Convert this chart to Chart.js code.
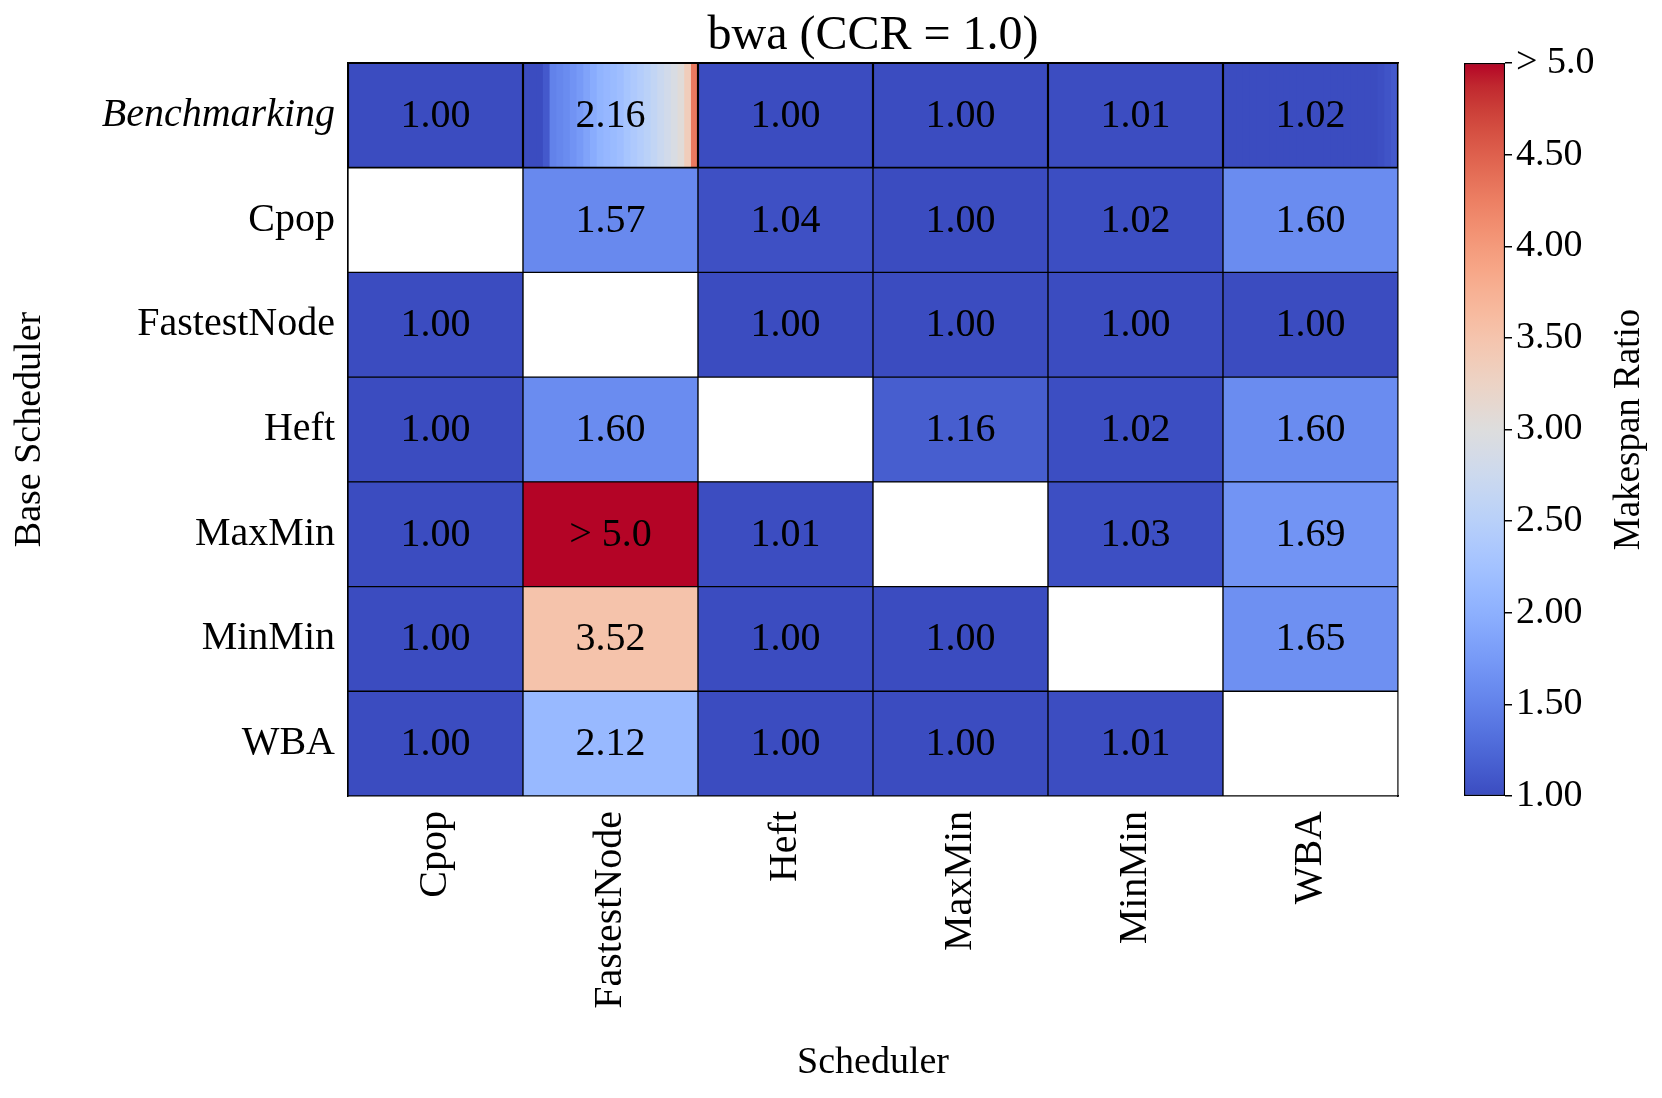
<!DOCTYPE html>
<html>
<head>
<meta charset="utf-8">
<script src="https://cdn.jsdelivr.net/npm/chart.js@4.4.1/dist/chart.umd.min.js"></script>
<style>
  body { margin: 0; background: #fff; }
  #wrap { position: relative; width: 1662px; height: 1098px; }
  #wrap canvas { position: absolute; left: 0; top: 0; }
</style>
</head>
<body>
<div id="wrap">
  <canvas id="heat" width="1662" height="1098"></canvas>
  <canvas id="cbar" width="1662" height="1098"></canvas>
</div>
<script>
var rows = ["Benchmarking", "Cpop", "FastestNode", "Heft", "MaxMin", "MinMin", "WBA"];
var cols = ["Cpop", "FastestNode", "Heft", "MaxMin", "MinMin", "WBA"];

// makespan ratio per base scheduler (row) vs scheduler (column)
// null = same scheduler (empty cell), 5.0 = clipped, shown as "> 5.0"
var benchMeans  = [1.00, 2.16, 1.00, 1.00, 1.01, 1.02];
var cpopRow     = [null, 1.57, 1.04, 1.00, 1.02, 1.60];
var fastestRow  = [1.00, null, 1.00, 1.00, 1.00, 1.00];
var heftRow     = [1.00, 1.60, null, 1.16, 1.02, 1.60];
var maxminRow   = [1.00, 5.00, 1.01, null, 1.03, 1.69];
var minminRow   = [1.00, 3.52, 1.00, 1.00, null, 1.65];
var wbaRow      = [1.00, 2.12, 1.00, 1.00, 1.01, null];

// sorted ratios inside each benchmarking cell, drawn as vertical stripes
var benchCpop    = [1.00];
var benchFastest = [1.00, 1.00, 1.00, 1.12, 1.50, 1.55, 1.60, 1.68, 1.75, 1.85, 1.95, 2.05, 2.10,
                    2.15, 2.20, 2.30, 2.38, 2.45, 2.52, 2.62, 2.72, 2.82, 2.92, 3.05, 3.35, 4.30];
var benchHeft    = [1.00];
var benchMaxmin  = [1.00];
var benchMinmin  = [1.01];
var benchWba     = [1.00, 1.00, 1.00, 1.00, 1.00, 1.00, 1.00, 1.00, 1.00, 1.00, 1.00, 1.00, 1.00,
                    1.00, 1.00, 1.00, 1.00, 1.00, 1.00, 1.00, 1.00, 1.00, 1.00, 1.03, 1.07, 1.12];

var cbarMin = 1.0, cbarMax = 5.0, cbarStep = 0.5;

var tableRows = [benchMeans, cpopRow, fastestRow, heftRow, maxminRow, minminRow, wbaRow];
var benchStripes = [benchCpop, benchFastest, benchHeft, benchMaxmin, benchMinmin, benchWba];

// matplotlib coolwarm
var coolwarm = [[59,76,192],[68,90,204],[77,104,215],[87,117,225],[98,130,234],[108,142,241],
  [119,154,247],[130,165,251],[141,176,254],[152,185,255],[163,194,255],[174,201,253],[184,208,249],
  [194,213,244],[204,217,238],[213,219,230],[221,221,221],[229,216,209],[236,211,197],[241,204,185],
  [245,196,173],[247,187,160],[247,177,148],[247,166,135],[244,154,123],[241,141,111],[236,127,99],
  [229,112,88],[222,96,77],[213,80,66],[203,62,56],[192,40,47],[180,4,38]];

function cmap(v) {
  var n = coolwarm.length - 1;
  var t = Math.min(Math.max((v - cbarMin) / (cbarMax - cbarMin), 0), 1) * n;
  var i = Math.min(Math.floor(t), n - 1), f = t - i;
  var a = coolwarm[i], b = coolwarm[i + 1];
  return 'rgb(' + Math.round(a[0] + (b[0] - a[0]) * f) + ',' + Math.round(a[1] + (b[1] - a[1]) * f) + ',' + Math.round(a[2] + (b[2] - a[2]) * f) + ')';
}

function fmt(v) {
  return v >= cbarMax ? '> 5.0' : v.toFixed(2);
}

Chart.defaults.font.family = '"Liberation Serif", "DejaVu Serif", serif';
Chart.defaults.color = '#000';

// build bar pieces from the tables
var cellData = [], stripeData = [], outlineData = [];
tableRows.forEach(function (vals, ri) {
  if (ri === 0) return;
  vals.forEach(function (v, ci) {
    cellData.push({ x: [ci, ci + 1], y: rows[ri], v: v });
  });
});
benchStripes.forEach(function (s, ci) {
  s.forEach(function (v, k) {
    // each stripe runs to the cell end, the next one covers the rest (no seams)
    stripeData.push({ x: [ci + k / s.length, ci + 1], y: rows[0], v: v });
  });
  outlineData.push({ x: [ci, ci + 1], y: rows[0], v: null });
});

function fillColor(c) {
  var v = c.raw && c.raw.v;
  return v == null ? '#ffffff' : cmap(v);
}

var annotate = {
  id: 'annotate',
  afterDatasetsDraw: function (chart) {
    var ctx = chart.ctx, xs = chart.scales.x, ys = chart.scales.y;
    ctx.save();
    ctx.font = '40px "Liberation Serif", serif';
    ctx.fillStyle = '#000';
    ctx.textAlign = 'center';
    ctx.textBaseline = 'middle';
    tableRows.forEach(function (vals, ri) {
      vals.forEach(function (v, ci) {
        if (v == null) return;
        ctx.fillText(fmt(v), xs.getPixelForValue(ci + 0.5), ys.getPixelForValue(ri) + 1);
      });
    });
    ctx.restore();
  }
};

new Chart(document.getElementById('heat'), {
  type: 'bar',
  data: {
    labels: rows,
    datasets: [
      { data: outlineData, backgroundColor: 'rgba(0,0,0,0)', borderColor: '#000', borderWidth: 0.75, order: 0 },
      { data: stripeData, backgroundColor: fillColor, borderWidth: 0, order: 1 },
      { data: cellData, backgroundColor: fillColor, borderColor: '#000', borderWidth: 1, order: 2 }
    ]
  },
  options: {
    indexAxis: 'y',
    responsive: false,
    animation: false,
    layout: { padding: { left: 0, right: 264, top: 0, bottom: 0 } },
    datasets: { bar: { grouped: false, barPercentage: 1, categoryPercentage: 1, borderSkipped: false } },
    plugins: { legend: { display: false }, tooltip: { enabled: false } },
    scales: {
      x: {
        type: 'linear', min: 0, max: cols.length,
        afterBuildTicks: function (s) { s.ticks = cols.map(function (c, i) { return { value: i + 0.5 }; }); },
        afterFit: function (s) { s.height = 302; },
        ticks: {
          autoSkip: false, minRotation: 90, maxRotation: 90, padding: 15,
          font: { size: 40 },
          callback: function (value, index) { return cols[index]; }
        },
        grid: { display: false, drawTicks: false },
        border: { display: true, color: '#000', width: 1.5 },
        title: { display: true, text: 'Scheduler', font: { size: 38 }, padding: { top: 0, bottom: 12 } }
      },
      x2: {
        type: 'linear', position: 'top', min: 0, max: cols.length,
        afterFit: function (s) { s.height = 63; },
        ticks: { display: false },
        grid: { display: false, drawTicks: false },
        border: { display: true, color: '#000', width: 1.5 },
        title: { display: true, text: 'bwa (CCR = 1.0)', font: { size: 48 }, padding: { top: 8, bottom: 0 } }
      },
      y: {
        type: 'category',
        afterFit: function (s) { s.width = 348; },
        ticks: {
          padding: 13,
          font: function (c) { return { size: 40, style: c.index === 0 ? 'italic' : 'normal' }; }
        },
        grid: { display: false, drawTicks: false },
        border: { display: true, color: '#000', width: 1.5 },
        title: { display: true, text: 'Base Scheduler', font: { size: 38 }, padding: { top: 7, bottom: 0 } }
      },
      y2: {
        type: 'linear', position: 'right', min: 0, max: 1,
        afterFit: function (s) { s.width = 0; },
        ticks: { display: false },
        grid: { display: false, drawTicks: false },
        border: { display: true, color: '#000', width: 1.5 }
      }
    }
  },
  plugins: [annotate]
});

// colorbar
var cbarLabel = {
  id: 'cbarLabel',
  afterDraw: function (chart) {
    var ctx = chart.ctx, a = chart.chartArea;
    ctx.save();
    ctx.font = '37px "Liberation Serif", serif';
    ctx.fillStyle = '#000';
    ctx.textAlign = 'center';
    ctx.textBaseline = 'middle';
    ctx.translate(a.right + 124, (a.top + a.bottom) / 2);
    ctx.rotate(-Math.PI / 2);
    ctx.fillText('Makespan Ratio', 0, 0);
    ctx.restore();
  }
};

function cbarGradient(c) {
  var a = c.chart.chartArea;
  if (!a) return null;
  var g = c.chart.ctx.createLinearGradient(0, a.bottom, 0, a.top);
  coolwarm.forEach(function (rgb, i) {
    g.addColorStop(i / (coolwarm.length - 1), 'rgb(' + rgb.join(',') + ')');
  });
  return g;
}

new Chart(document.getElementById('cbar'), {
  type: 'bar',
  data: {
    labels: [''],
    datasets: [{
      data: [[cbarMin, cbarMax]],
      backgroundColor: cbarGradient,
      borderColor: '#000', borderWidth: 1.5, borderSkipped: false,
      barPercentage: 1, categoryPercentage: 1
    }]
  },
  options: {
    responsive: false,
    animation: false,
    layout: { padding: { left: 1464, right: 0, top: 63, bottom: 302 } },
    plugins: { legend: { display: false }, tooltip: { enabled: false } },
    scales: {
      x: { display: false },
      y: {
        position: 'right', min: cbarMin, max: cbarMax,
        afterFit: function (s) { s.width = 157; },
        ticks: {
          stepSize: cbarStep, padding: 4, font: { size: 38 },
          callback: function (v) { return fmt(v); }
        },
        grid: { drawOnChartArea: false, drawTicks: true, tickLength: 7, color: '#000', lineWidth: 1.5 },
        border: { display: false }
      }
    }
  },
  plugins: [cbarLabel]
});
</script>
</body>
</html>
